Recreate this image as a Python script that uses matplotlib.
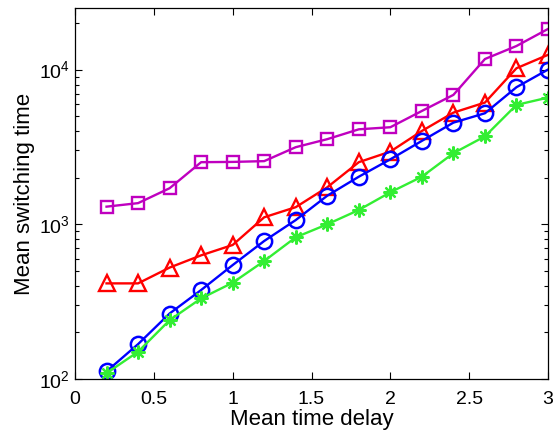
import matplotlib
matplotlib.use("Agg")
import matplotlib.pyplot as plt
from matplotlib.ticker import LogLocator, FixedLocator

plt.rcParams['font.family'] = ['Liberation Sans', 'DejaVu Sans']
plt.rcParams['mathtext.fontset'] = 'custom'
plt.rcParams['mathtext.rm'] = 'Liberation Sans'

# mean time delay
delay = [0.2, 0.4, 0.6, 0.8, 1.0, 1.2, 1.4, 1.6, 1.8, 2.0, 2.2, 2.4, 2.6, 2.8, 3.0]

# mean switching time for each series
squares = [1300, 1370, 1710, 2520, 2530, 2560, 3150, 3550, 4110, 4240, 5400, 6860, 11700, 14200, 18300]
triangles = [415, 415, 525, 630, 735, 1110, 1290, 1735, 2520, 2950, 4010, 5270, 6120, 10200, 12450]
circles = [112, 168, 265, 376, 545, 780, 1065, 1530, 2030, 2630, 3460, 4540, 5220, 7690, 10000]
stars = [109, 150, 240, 332, 419, 579, 824, 1000, 1237, 1610, 2030, 2880, 3700, 5910, 6590]

fig = plt.figure(figsize=(5.59, 4.30), dpi=100)
ax = fig.add_axes([75 / 559, 1 - 379 / 430, 473 / 559, 371 / 430])

lw = 1.7
ax.plot(delay, squares, '-s', color='#bf00bf', lw=lw, ms=8.5, mew=1.7, mfc='none')
ax.plot(delay, triangles, '-^', color='#ff0000', lw=lw, ms=12, mew=1.7, mfc='none')
ax.plot(delay, circles, '-o', color='#0000ff', lw=lw, ms=11, mew=1.8, mfc='none')
ax.plot(delay, stars, '-', color='#33ee33', lw=lw, marker=(8, 2, 0), ms=10, mew=1.6)

ax.set_yscale('log')
ax.set_xlim(0, 3)
ax.set_ylim(100, 25000)
ax.xaxis.set_major_locator(FixedLocator([0, 0.5, 1, 1.5, 2, 2.5, 3]))
ax.set_xticklabels(['0', '0.5', '1', '1.5', '2', '2.5', '3'])
ax.yaxis.set_major_locator(LogLocator(base=10, numticks=10))
ax.yaxis.set_minor_locator(LogLocator(base=10, subs=range(2, 10), numticks=20))

ax.tick_params(which='both', direction='in', top=True, right=True, labelsize=14, width=0.8)
ax.tick_params(which='major', length=5)
ax.tick_params(which='minor', length=3)
ax.tick_params(axis='x', pad=9)
for s in ax.spines.values():
    s.set_linewidth(0.9)

ax.set_xlabel('Mean time delay', fontsize=16, labelpad=0)
ax.set_ylabel('Mean switching time', fontsize=16, labelpad=3)

fig.savefig('out.png', dpi=100)
